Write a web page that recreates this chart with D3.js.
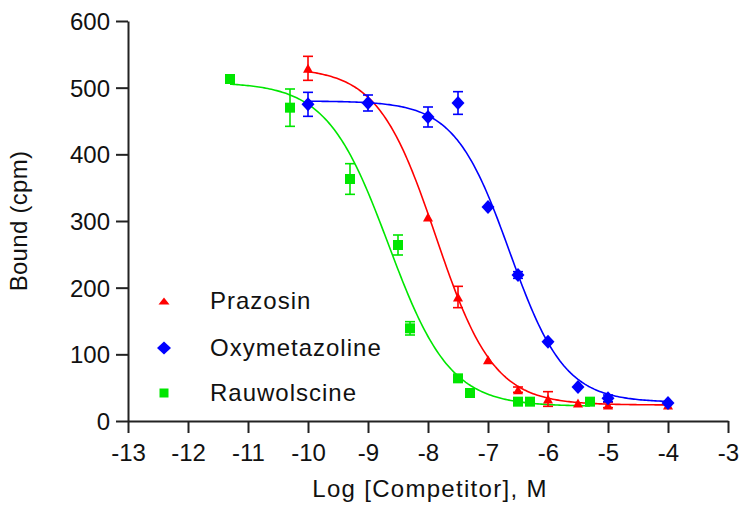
<!DOCTYPE html>
<html>
<head>
<meta charset="utf-8">
<script src="https://cdn.jsdelivr.net/npm/d3@7"></script>
<style>
  html, body { margin: 0; padding: 0; background: #fff; }
  svg { display: block; }
  text { font-family: "Liberation Sans", Arial, sans-serif; fill: #111; }
</style>
</head>
<body>
<svg id="chart" width="740" height="505"></svg>
<script>
// Competition binding: log molar competitor concentration vs bound radioligand (cpm)
const seriesNames = ["Prazosin", "Oxymetazoline", "Rauwolscine"];
const seriesColors = ["#ff0000", "#0000ff", "#00e600"];
const seriesShapes = ["triangle", "diamond", "square"];

const prazosinX   = [-10, -8, -7.5, -7, -6.5, -6, -5.5, -5, -4];
const prazosinY   = [529, 306, 186, 92, 47, 33, 27, 24, 24];
const prazosinErr = [18, 0, 16, 0, 4, 11, 0, 4, 0];

const oxymetazolineX   = [-10, -9, -8, -7.5, -7, -6.5, -6, -5.5, -5, -4];
const oxymetazolineY   = [475, 477, 456, 477, 321, 219, 119, 51, 34, 27];
const oxymetazolineErr = [18, 12, 15, 17, 0, 5, 0, 0, 5, 0];

const rauwolscineX   = [-11.3, -10.3, -9.3, -8.5, -8.3, -7.5, -7.3, -6.5, -6.3, -5.3];
const rauwolscineY   = [513, 470, 363, 264, 139, 64, 42, 29, 29, 29];
const rauwolscineErr = [0, 28, 23, 15, 10, 0, 0, 0, 0, 0];

// One-site competition fits: [top, bottom, logIC50, hill slope magnitude]
const prazosinFit      = [530, 24, -7.87, 0.9];
const oxymetazolineFit = [480, 28, -6.64, 0.95];
const rauwolscineFit   = [508, 22, -8.66, 0.85];

const xTicks = [-13, -12, -11, -10, -9, -8, -7, -6, -5, -4, -3];
const yTicks = [0, 100, 200, 300, 400, 500, 600];

const series = [
  { x: prazosinX, y: prazosinY, err: prazosinErr, fit: prazosinFit },
  { x: oxymetazolineX, y: oxymetazolineY, err: oxymetazolineErr, fit: oxymetazolineFit },
  { x: rauwolscineX, y: rauwolscineY, err: rauwolscineErr, fit: rauwolscineFit }
].map((s, i) => ({ ...s, name: seriesNames[i], color: seriesColors[i], shape: seriesShapes[i] }));

const svg = d3.select("#chart");
const x = d3.scaleLinear().domain([-13, -3]).range([128, 728]);
const y = d3.scaleLinear().domain([0, 600]).range([421, 21]);

// Axes (plain hyphen for negative tick labels)
const axisColor = "#222";
const plain = d => String(d);
const xAxis = svg.append("g").attr("transform", `translate(0,${y(0)})`)
  .call(d3.axisBottom(x).tickValues(xTicks).tickSize(12).tickSizeOuter(0).tickPadding(10).tickFormat(plain));
const yAxis = svg.append("g").attr("transform", `translate(${x(-13)},0)`)
  .call(d3.axisLeft(y).tickValues(yTicks).tickSize(12).tickSizeOuter(0).tickPadding(6).tickFormat(plain));
[xAxis, yAxis].forEach(g => {
  g.select(".domain").attr("stroke", axisColor).attr("stroke-width", 2);
  g.selectAll(".tick line").attr("stroke", axisColor).attr("stroke-width", 2);
  g.selectAll(".tick text").attr("font-size", 24).attr("fill", "#111")
    .attr("font-family", "'Liberation Sans', Arial, sans-serif");
});
xAxis.selectAll(".tick text").attr("dy", "0.75em");
yAxis.selectAll(".tick text").attr("dy", "0.35em");

svg.append("text").attr("x", 430).attr("y", 497).attr("text-anchor", "middle")
  .attr("font-size", 24).attr("letter-spacing", 1.3).text("Log [Competitor], M");
svg.append("text").attr("transform", `translate(27,${y(300)}) rotate(-90)`)
  .attr("text-anchor", "middle").attr("font-size", 24).attr("letter-spacing", 0.3).text("Bound (cpm)");

// Marker shapes
function markerPath(shape, w, h) {
  const p = d3.path();
  if (shape === "triangle") {
    p.moveTo(0, -h / 2); p.lineTo(w / 2, h / 2); p.lineTo(-w / 2, h / 2); p.closePath();
  } else if (shape === "diamond") {
    p.moveTo(0, -h / 2); p.lineTo(w / 2, 0); p.lineTo(0, h / 2); p.lineTo(-w / 2, 0); p.closePath();
  } else {
    p.rect(-w / 2, -h / 2, w, h);
  }
  return p.toString();
}
const markerSize = { triangle: [10, 9], diamond: [13, 14], square: [10, 10] };

// Fitted curves
const fitValue = (f, lx) => f[1] + (f[0] - f[1]) / (1 + Math.pow(10, f[3] * (lx - f[2])));
const line = d3.line().x(d => x(d[0])).y(d => y(d[1]));
series.forEach(s => {
  const [lo, hi] = d3.extent(s.x);
  const pts = d3.range(0, 201).map(i => {
    const lx = lo + (hi - lo) * i / 200;
    return [lx, fitValue(s.fit, lx)];
  });
  svg.append("path").attr("d", line(pts)).attr("fill", "none")
    .attr("stroke", s.color).attr("stroke-width", 1.6);
});

// Error bars and points
series.forEach(s => {
  const g = svg.append("g");
  const data = s.x.map((v, i) => ({ x: v, y: s.y[i], e: s.err[i] }));
  const eb = g.selectAll("g.eb").data(data.filter(d => d.e > 0)).join("g")
    .attr("stroke", s.color).attr("stroke-width", 1.6);
  eb.append("line").attr("x1", d => x(d.x)).attr("x2", d => x(d.x))
    .attr("y1", d => y(d.y - d.e)).attr("y2", d => y(d.y + d.e));
  eb.append("line").attr("x1", d => x(d.x) - 5).attr("x2", d => x(d.x) + 5)
    .attr("y1", d => y(d.y + d.e)).attr("y2", d => y(d.y + d.e));
  eb.append("line").attr("x1", d => x(d.x) - 5).attr("x2", d => x(d.x) + 5)
    .attr("y1", d => y(d.y - d.e)).attr("y2", d => y(d.y - d.e));
  const [w, h] = markerSize[s.shape];
  g.selectAll("path.pt").data(data).join("path").attr("class", "pt")
    .attr("d", markerPath(s.shape, w, h))
    .attr("transform", d => `translate(${x(d.x)},${y(d.y)})`)
    .attr("fill", s.color);
});

// Legend
const legendY = [301, 348, 393];
const legendMarker = { triangle: [11, 7], diamond: [14, 13], square: [9, 9] };
series.forEach((s, i) => {
  const [w, h] = legendMarker[s.shape];
  svg.append("path").attr("d", markerPath(s.shape, w, h))
    .attr("transform", `translate(164,${legendY[i]})`).attr("fill", s.color);
  svg.append("text").attr("x", 210).attr("y", legendY[i]).attr("dy", "0.35em")
    .attr("font-size", 24).attr("letter-spacing", 1).text(s.name);
});
</script>
</body>
</html>
